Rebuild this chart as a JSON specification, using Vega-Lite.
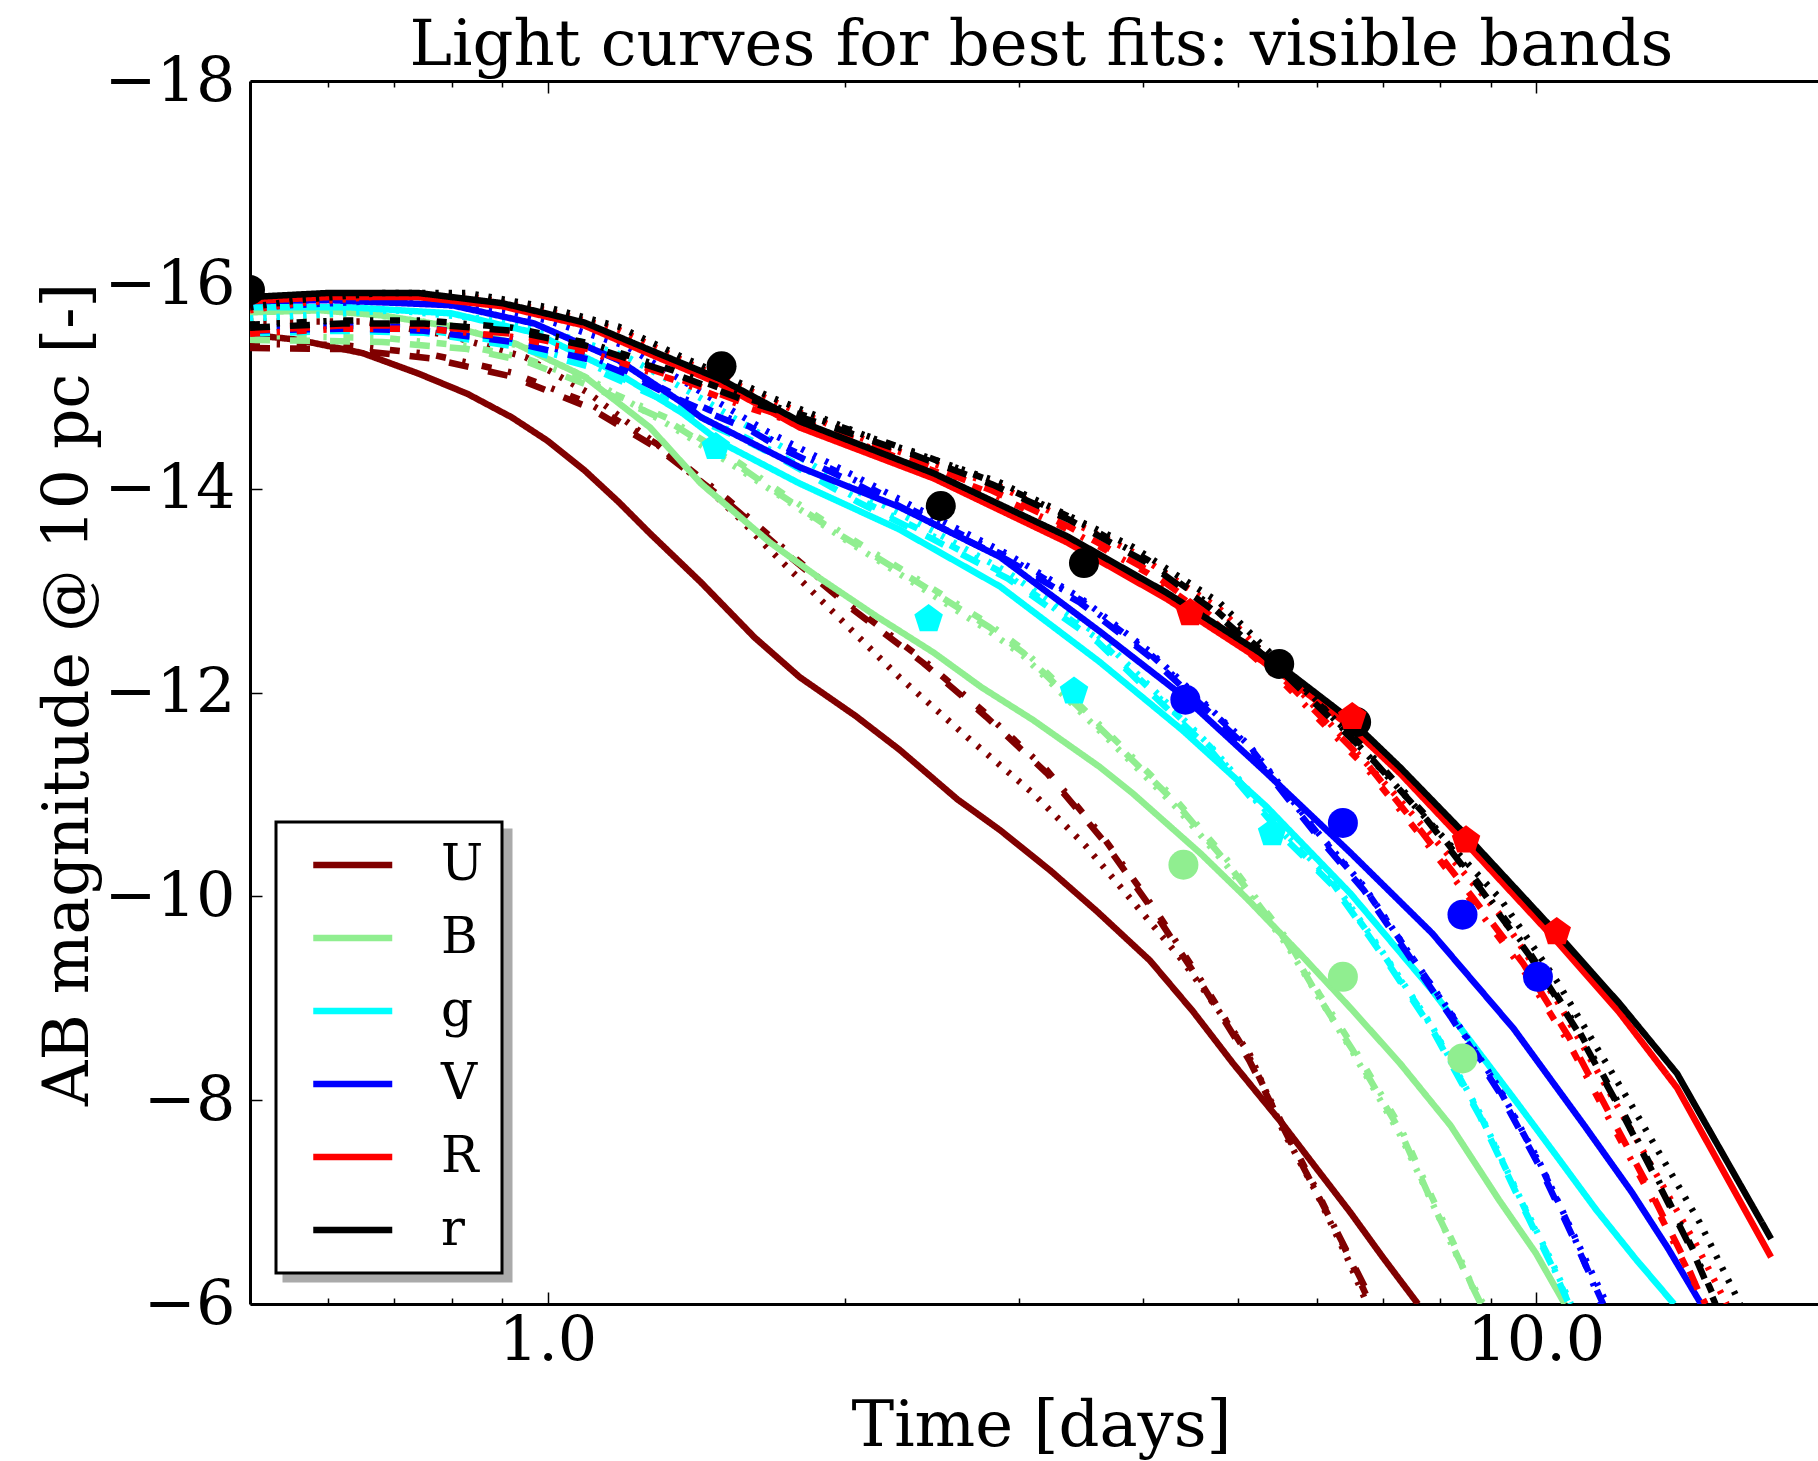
{
  "$schema": "https://vega.github.io/schema/vega-lite/v6.json",
  "width": 1568,
  "height": 1223,
  "autosize": {"type": "none"},
  "padding": {"left": 250, "top": 81, "right": 0, "bottom": 157},
  "background": "white",
  "datasets": {
    "curves": [
      {"band":"U","style":"solid","t":0.5,"mag":-15.51},{"band":"U","style":"solid","t":0.56,"mag":-15.46},{"band":"U","style":"solid","t":0.65,"mag":-15.33},{"band":"U","style":"solid","t":0.74,"mag":-15.13},{"band":"U","style":"solid","t":0.83,"mag":-14.93},{"band":"U","style":"solid","t":0.92,"mag":-14.7},{"band":"U","style":"solid","t":1.0,"mag":-14.47},{"band":"U","style":"solid","t":1.09,"mag":-14.18},{"band":"U","style":"solid","t":1.18,"mag":-13.87},{"band":"U","style":"solid","t":1.27,"mag":-13.56},{"band":"U","style":"solid","t":1.43,"mag":-13.08},{"band":"U","style":"solid","t":1.62,"mag":-12.54},{"band":"U","style":"solid","t":1.8,"mag":-12.15},{"band":"U","style":"solid","t":2.05,"mag":-11.77},{"band":"U","style":"solid","t":2.27,"mag":-11.44},{"band":"U","style":"solid","t":2.6,"mag":-10.95},{"band":"U","style":"solid","t":2.87,"mag":-10.65},{"band":"U","style":"solid","t":3.23,"mag":-10.25},{"band":"U","style":"solid","t":3.6,"mag":-9.85},{"band":"U","style":"solid","t":4.07,"mag":-9.37},{"band":"U","style":"solid","t":4.5,"mag":-8.87},{"band":"U","style":"solid","t":4.94,"mag":-8.36},{"band":"U","style":"solid","t":5.55,"mag":-7.76},{"band":"U","style":"solid","t":6.0,"mag":-7.33},{"band":"U","style":"solid","t":6.49,"mag":-6.9},{"band":"U","style":"solid","t":7.0,"mag":-6.46},{"band":"U","style":"solid","t":7.6,"mag":-6.0},
      {"band":"U","style":"dashed","t":0.5,"mag":-15.38},{"band":"U","style":"dashed","t":0.62,"mag":-15.37},{"band":"U","style":"dashed","t":0.76,"mag":-15.28},{"band":"U","style":"dashed","t":0.92,"mag":-15.1},{"band":"U","style":"dashed","t":1.1,"mag":-14.8},{"band":"U","style":"dashed","t":1.3,"mag":-14.38},{"band":"U","style":"dashed","t":1.52,"mag":-13.87},{"band":"U","style":"dashed","t":1.76,"mag":-13.33},{"band":"U","style":"dashed","t":2.04,"mag":-12.81},{"band":"U","style":"dashed","t":2.4,"mag":-12.29},{"band":"U","style":"dashed","t":2.78,"mag":-11.76},{"band":"U","style":"dashed","t":3.2,"mag":-11.21},{"band":"U","style":"dashed","t":3.65,"mag":-10.55},{"band":"U","style":"dashed","t":4.14,"mag":-9.8},{"band":"U","style":"dashed","t":4.61,"mag":-9.11},{"band":"U","style":"dashed","t":5.13,"mag":-8.39},{"band":"U","style":"dashed","t":5.77,"mag":-7.41},{"band":"U","style":"dashed","t":6.3,"mag":-6.7},{"band":"U","style":"dashed","t":6.85,"mag":-6.0},
      {"band":"U","style":"dotted","t":0.5,"mag":-15.64},{"band":"U","style":"dotted","t":0.65,"mag":-15.64},{"band":"U","style":"dotted","t":0.79,"mag":-15.51},{"band":"U","style":"dotted","t":0.95,"mag":-15.29},{"band":"U","style":"dotted","t":1.1,"mag":-14.94},{"band":"U","style":"dotted","t":1.3,"mag":-14.41},{"band":"U","style":"dotted","t":1.43,"mag":-14.06},{"band":"U","style":"dotted","t":1.56,"mag":-13.72},{"band":"U","style":"dotted","t":1.67,"mag":-13.42},{"band":"U","style":"dotted","t":1.95,"mag":-12.78},{"band":"U","style":"dotted","t":2.27,"mag":-12.15},{"band":"U","style":"dotted","t":2.66,"mag":-11.56},{"band":"U","style":"dotted","t":3.1,"mag":-11.01},{"band":"U","style":"dotted","t":3.5,"mag":-10.5},{"band":"U","style":"dotted","t":3.91,"mag":-9.95},{"band":"U","style":"dotted","t":4.39,"mag":-9.37},{"band":"U","style":"dotted","t":4.75,"mag":-8.91},{"band":"U","style":"dotted","t":5.13,"mag":-8.46},{"band":"U","style":"dotted","t":5.55,"mag":-7.7},{"band":"U","style":"dotted","t":6.0,"mag":-7.09},{"band":"U","style":"dotted","t":6.44,"mag":-6.46},{"band":"U","style":"dotted","t":6.75,"mag":-6.0},
      {"band":"U","style":"dashdot","t":0.5,"mag":-15.42},{"band":"U","style":"dashdot","t":0.62,"mag":-15.41},{"band":"U","style":"dashdot","t":0.76,"mag":-15.32},{"band":"U","style":"dashdot","t":0.92,"mag":-15.14},{"band":"U","style":"dashdot","t":1.1,"mag":-14.84},{"band":"U","style":"dashdot","t":1.3,"mag":-14.42},{"band":"U","style":"dashdot","t":1.52,"mag":-13.9},{"band":"U","style":"dashdot","t":1.76,"mag":-13.36},{"band":"U","style":"dashdot","t":2.04,"mag":-12.84},{"band":"U","style":"dashdot","t":2.4,"mag":-12.32},{"band":"U","style":"dashdot","t":2.78,"mag":-11.79},{"band":"U","style":"dashdot","t":3.2,"mag":-11.24},{"band":"U","style":"dashdot","t":3.65,"mag":-10.58},{"band":"U","style":"dashdot","t":4.14,"mag":-9.84},{"band":"U","style":"dashdot","t":4.61,"mag":-9.14},{"band":"U","style":"dashdot","t":5.13,"mag":-8.42},{"band":"U","style":"dashdot","t":5.55,"mag":-7.75},{"band":"U","style":"dashdot","t":6.0,"mag":-7.12},{"band":"U","style":"dashdot","t":6.44,"mag":-6.5},{"band":"U","style":"dashdot","t":6.8,"mag":-6.0},

      {"band":"B","style":"solid","t":0.5,"mag":-15.73},{"band":"B","style":"solid","t":0.59,"mag":-15.75},{"band":"B","style":"solid","t":0.68,"mag":-15.7},{"band":"B","style":"solid","t":0.8,"mag":-15.59},{"band":"B","style":"solid","t":0.93,"mag":-15.42},{"band":"B","style":"solid","t":1.09,"mag":-15.1},{"band":"B","style":"solid","t":1.27,"mag":-14.6},{"band":"B","style":"solid","t":1.43,"mag":-14.05},{"band":"B","style":"solid","t":1.68,"mag":-13.47},{"band":"B","style":"solid","t":1.88,"mag":-13.13},{"band":"B","style":"solid","t":2.15,"mag":-12.75},{"band":"B","style":"solid","t":2.46,"mag":-12.39},{"band":"B","style":"solid","t":2.75,"mag":-12.05},{"band":"B","style":"solid","t":3.1,"mag":-11.73},{"band":"B","style":"solid","t":3.62,"mag":-11.27},{"band":"B","style":"solid","t":3.91,"mag":-11.01},{"band":"B","style":"solid","t":4.58,"mag":-10.42},{"band":"B","style":"solid","t":5.1,"mag":-9.98},{"band":"B","style":"solid","t":5.77,"mag":-9.44},{"band":"B","style":"solid","t":6.5,"mag":-8.9},{"band":"B","style":"solid","t":7.29,"mag":-8.36},{"band":"B","style":"solid","t":8.2,"mag":-7.75},{"band":"B","style":"solid","t":9.18,"mag":-7.02},{"band":"B","style":"solid","t":10.0,"mag":-6.5},{"band":"B","style":"solid","t":10.7,"mag":-6.0},
      {"band":"B","style":"dashed","t":0.5,"mag":-15.46},{"band":"B","style":"dashed","t":0.68,"mag":-15.44},{"band":"B","style":"dashed","t":0.83,"mag":-15.37},{"band":"B","style":"dashed","t":0.95,"mag":-15.25},{"band":"B","style":"dashed","t":1.11,"mag":-15.0},{"band":"B","style":"dashed","t":1.33,"mag":-14.65},{"band":"B","style":"dashed","t":1.57,"mag":-14.21},{"band":"B","style":"dashed","t":1.69,"mag":-13.99},{"band":"B","style":"dashed","t":1.99,"mag":-13.53},{"band":"B","style":"dashed","t":2.37,"mag":-13.08},{"band":"B","style":"dashed","t":2.8,"mag":-12.64},{"band":"B","style":"dashed","t":3.03,"mag":-12.39},{"band":"B","style":"dashed","t":3.73,"mag":-11.53},{"band":"B","style":"dashed","t":4.33,"mag":-10.91},{"band":"B","style":"dashed","t":4.87,"mag":-10.33},{"band":"B","style":"dashed","t":5.6,"mag":-9.55},{"band":"B","style":"dashed","t":6.04,"mag":-9.0},{"band":"B","style":"dashed","t":6.52,"mag":-8.5},{"band":"B","style":"dashed","t":7.29,"mag":-7.7},{"band":"B","style":"dashed","t":7.85,"mag":-7.0},{"band":"B","style":"dashed","t":8.37,"mag":-6.43},{"band":"B","style":"dashed","t":8.8,"mag":-6.0},
      {"band":"B","style":"dotted","t":0.5,"mag":-15.68},{"band":"B","style":"dotted","t":0.65,"mag":-15.72},{"band":"B","style":"dotted","t":0.8,"mag":-15.6},{"band":"B","style":"dotted","t":0.95,"mag":-15.38},{"band":"B","style":"dotted","t":1.1,"mag":-15.08},{"band":"B","style":"dotted","t":1.33,"mag":-14.62},{"band":"B","style":"dotted","t":1.57,"mag":-14.18},{"band":"B","style":"dotted","t":1.7,"mag":-13.96},{"band":"B","style":"dotted","t":2.0,"mag":-13.5},{"band":"B","style":"dotted","t":2.37,"mag":-13.05},{"band":"B","style":"dotted","t":2.8,"mag":-12.6},{"band":"B","style":"dotted","t":3.03,"mag":-12.36},{"band":"B","style":"dotted","t":3.73,"mag":-11.5},{"band":"B","style":"dotted","t":4.33,"mag":-10.87},{"band":"B","style":"dotted","t":4.87,"mag":-10.3},{"band":"B","style":"dotted","t":5.6,"mag":-9.52},{"band":"B","style":"dotted","t":6.04,"mag":-9.0},{"band":"B","style":"dotted","t":6.52,"mag":-8.48},{"band":"B","style":"dotted","t":7.29,"mag":-7.66},{"band":"B","style":"dotted","t":7.85,"mag":-7.0},{"band":"B","style":"dotted","t":8.37,"mag":-6.42},{"band":"B","style":"dotted","t":8.85,"mag":-6.0},
      {"band":"B","style":"dashdot","t":0.5,"mag":-15.5},{"band":"B","style":"dashdot","t":0.68,"mag":-15.48},{"band":"B","style":"dashdot","t":0.83,"mag":-15.4},{"band":"B","style":"dashdot","t":0.95,"mag":-15.28},{"band":"B","style":"dashdot","t":1.11,"mag":-15.03},{"band":"B","style":"dashdot","t":1.33,"mag":-14.68},{"band":"B","style":"dashdot","t":1.57,"mag":-14.24},{"band":"B","style":"dashdot","t":1.69,"mag":-14.02},{"band":"B","style":"dashdot","t":1.99,"mag":-13.56},{"band":"B","style":"dashdot","t":2.37,"mag":-13.11},{"band":"B","style":"dashdot","t":2.8,"mag":-12.67},{"band":"B","style":"dashdot","t":3.03,"mag":-12.42},{"band":"B","style":"dashdot","t":3.73,"mag":-11.56},{"band":"B","style":"dashdot","t":4.33,"mag":-10.94},{"band":"B","style":"dashdot","t":4.87,"mag":-10.36},{"band":"B","style":"dashdot","t":5.6,"mag":-9.58},{"band":"B","style":"dashdot","t":6.04,"mag":-9.04},{"band":"B","style":"dashdot","t":6.52,"mag":-8.54},{"band":"B","style":"dashdot","t":7.29,"mag":-7.74},{"band":"B","style":"dashdot","t":7.85,"mag":-7.05},{"band":"B","style":"dashdot","t":8.37,"mag":-6.47},{"band":"B","style":"dashdot","t":8.77,"mag":-6.0},

      {"band":"g","style":"solid","t":0.5,"mag":-15.78},{"band":"g","style":"solid","t":0.63,"mag":-15.78},{"band":"g","style":"solid","t":0.8,"mag":-15.72},{"band":"g","style":"solid","t":0.97,"mag":-15.53},{"band":"g","style":"solid","t":1.18,"mag":-15.13},{"band":"g","style":"solid","t":1.37,"mag":-14.74},{"band":"g","style":"solid","t":1.5,"mag":-14.45},{"band":"g","style":"solid","t":1.8,"mag":-14.05},{"band":"g","style":"solid","t":2.27,"mag":-13.6},{"band":"g","style":"solid","t":2.87,"mag":-13.04},{"band":"g","style":"solid","t":3.62,"mag":-12.3},{"band":"g","style":"solid","t":4.39,"mag":-11.63},{"band":"g","style":"solid","t":5.34,"mag":-10.88},{"band":"g","style":"solid","t":6.49,"mag":-10.03},{"band":"g","style":"solid","t":7.85,"mag":-9.08},{"band":"g","style":"solid","t":9.53,"mag":-8.0},{"band":"g","style":"solid","t":10.5,"mag":-7.45},{"band":"g","style":"solid","t":11.5,"mag":-6.93},{"band":"g","style":"solid","t":12.6,"mag":-6.45},{"band":"g","style":"solid","t":13.8,"mag":-6.0},
      {"band":"g","style":"dashed","t":0.5,"mag":-15.52},{"band":"g","style":"dashed","t":0.62,"mag":-15.55},{"band":"g","style":"dashed","t":0.75,"mag":-15.53},{"band":"g","style":"dashed","t":0.92,"mag":-15.4},{"band":"g","style":"dashed","t":1.1,"mag":-15.2},{"band":"g","style":"dashed","t":1.33,"mag":-14.84},{"band":"g","style":"dashed","t":1.45,"mag":-14.64},{"band":"g","style":"dashed","t":1.58,"mag":-14.48},{"band":"g","style":"dashed","t":1.72,"mag":-14.3},{"band":"g","style":"dashed","t":2.06,"mag":-13.87},{"band":"g","style":"dashed","t":2.46,"mag":-13.5},{"band":"g","style":"dashed","t":2.92,"mag":-13.12},{"band":"g","style":"dashed","t":3.6,"mag":-12.5},{"band":"g","style":"dashed","t":4.68,"mag":-11.44},{"band":"g","style":"dashed","t":5.6,"mag":-10.55},{"band":"g","style":"dashed","t":6.24,"mag":-10.1},{"band":"g","style":"dashed","t":7.0,"mag":-9.42},{"band":"g","style":"dashed","t":7.85,"mag":-8.7},{"band":"g","style":"dashed","t":8.78,"mag":-7.84},{"band":"g","style":"dashed","t":9.63,"mag":-7.02},{"band":"g","style":"dashed","t":10.4,"mag":-6.36},{"band":"g","style":"dashed","t":10.8,"mag":-6.0},
      {"band":"g","style":"dotted","t":0.5,"mag":-15.67},{"band":"g","style":"dotted","t":0.7,"mag":-15.75},{"band":"g","style":"dotted","t":0.9,"mag":-15.65},{"band":"g","style":"dotted","t":1.0,"mag":-15.55},{"band":"g","style":"dotted","t":1.2,"mag":-15.3},{"band":"g","style":"dotted","t":1.44,"mag":-14.87},{"band":"g","style":"dotted","t":1.7,"mag":-14.45},{"band":"g","style":"dotted","t":2.06,"mag":-13.97},{"band":"g","style":"dotted","t":2.46,"mag":-13.58},{"band":"g","style":"dotted","t":2.92,"mag":-13.18},{"band":"g","style":"dotted","t":3.6,"mag":-12.57},{"band":"g","style":"dotted","t":4.68,"mag":-11.48},{"band":"g","style":"dotted","t":5.6,"mag":-10.6},{"band":"g","style":"dotted","t":6.24,"mag":-10.14},{"band":"g","style":"dotted","t":7.0,"mag":-9.45},{"band":"g","style":"dotted","t":7.85,"mag":-8.73},{"band":"g","style":"dotted","t":8.78,"mag":-7.87},{"band":"g","style":"dotted","t":9.63,"mag":-7.05},{"band":"g","style":"dotted","t":10.4,"mag":-6.4},{"band":"g","style":"dotted","t":10.85,"mag":-6.0},
      {"band":"g","style":"dashdot","t":0.5,"mag":-15.55},{"band":"g","style":"dashdot","t":0.62,"mag":-15.58},{"band":"g","style":"dashdot","t":0.75,"mag":-15.56},{"band":"g","style":"dashdot","t":0.92,"mag":-15.43},{"band":"g","style":"dashdot","t":1.1,"mag":-15.23},{"band":"g","style":"dashdot","t":1.33,"mag":-14.87},{"band":"g","style":"dashdot","t":1.45,"mag":-14.67},{"band":"g","style":"dashdot","t":1.58,"mag":-14.51},{"band":"g","style":"dashdot","t":1.72,"mag":-14.33},{"band":"g","style":"dashdot","t":2.06,"mag":-13.9},{"band":"g","style":"dashdot","t":2.46,"mag":-13.53},{"band":"g","style":"dashdot","t":2.92,"mag":-13.15},{"band":"g","style":"dashdot","t":3.6,"mag":-12.53},{"band":"g","style":"dashdot","t":4.68,"mag":-11.47},{"band":"g","style":"dashdot","t":5.6,"mag":-10.58},{"band":"g","style":"dashdot","t":6.24,"mag":-10.12},{"band":"g","style":"dashdot","t":7.0,"mag":-9.44},{"band":"g","style":"dashdot","t":7.85,"mag":-8.72},{"band":"g","style":"dashdot","t":8.78,"mag":-7.86},{"band":"g","style":"dashdot","t":9.63,"mag":-7.04},{"band":"g","style":"dashdot","t":10.4,"mag":-6.38},{"band":"g","style":"dashdot","t":10.8,"mag":-6.0},

      {"band":"V","style":"solid","t":0.5,"mag":-15.84},{"band":"V","style":"solid","t":0.6,"mag":-15.85},{"band":"V","style":"solid","t":0.8,"mag":-15.8},{"band":"V","style":"solid","t":0.97,"mag":-15.62},{"band":"V","style":"solid","t":1.18,"mag":-15.26},{"band":"V","style":"solid","t":1.37,"mag":-14.84},{"band":"V","style":"solid","t":1.43,"mag":-14.7},{"band":"V","style":"solid","t":1.8,"mag":-14.21},{"band":"V","style":"solid","t":2.27,"mag":-13.82},{"band":"V","style":"solid","t":2.87,"mag":-13.33},{"band":"V","style":"solid","t":3.62,"mag":-12.6},{"band":"V","style":"solid","t":4.39,"mag":-11.97},{"band":"V","style":"solid","t":5.34,"mag":-11.21},{"band":"V","style":"solid","t":6.49,"mag":-10.43},{"band":"V","style":"solid","t":7.85,"mag":-9.64},{"band":"V","style":"solid","t":9.5,"mag":-8.7},{"band":"V","style":"solid","t":11.2,"mag":-7.75},{"band":"V","style":"solid","t":12.5,"mag":-7.1},{"band":"V","style":"solid","t":13.6,"mag":-6.55},{"band":"V","style":"solid","t":14.7,"mag":-6.0},
      {"band":"V","style":"dashed","t":0.5,"mag":-15.55},{"band":"V","style":"dashed","t":0.62,"mag":-15.57},{"band":"V","style":"dashed","t":0.75,"mag":-15.55},{"band":"V","style":"dashed","t":0.92,"mag":-15.44},{"band":"V","style":"dashed","t":1.0,"mag":-15.36},{"band":"V","style":"dashed","t":1.11,"mag":-15.26},{"band":"V","style":"dashed","t":1.22,"mag":-15.1},{"band":"V","style":"dashed","t":1.34,"mag":-14.9},{"band":"V","style":"dashed","t":1.46,"mag":-14.74},{"band":"V","style":"dashed","t":1.6,"mag":-14.58},{"band":"V","style":"dashed","t":1.72,"mag":-14.4},{"band":"V","style":"dashed","t":2.04,"mag":-14.06},{"band":"V","style":"dashed","t":2.44,"mag":-13.67},{"band":"V","style":"dashed","t":2.92,"mag":-13.3},{"band":"V","style":"dashed","t":3.46,"mag":-12.88},{"band":"V","style":"dashed","t":4.07,"mag":-12.35},{"band":"V","style":"dashed","t":5.13,"mag":-11.44},{"band":"V","style":"dashed","t":6.0,"mag":-10.6},{"band":"V","style":"dashed","t":6.7,"mag":-10.06},{"band":"V","style":"dashed","t":7.4,"mag":-9.45},{"band":"V","style":"dashed","t":8.2,"mag":-8.82},{"band":"V","style":"dashed","t":9.18,"mag":-8.08},{"band":"V","style":"dashed","t":10.1,"mag":-7.34},{"band":"V","style":"dashed","t":10.9,"mag":-6.66},{"band":"V","style":"dashed","t":11.7,"mag":-6.0},
      {"band":"V","style":"dotted","t":0.5,"mag":-15.78},{"band":"V","style":"dotted","t":0.7,"mag":-15.85},{"band":"V","style":"dotted","t":0.9,"mag":-15.75},{"band":"V","style":"dotted","t":1.0,"mag":-15.65},{"band":"V","style":"dotted","t":1.2,"mag":-15.4},{"band":"V","style":"dotted","t":1.44,"mag":-14.93},{"band":"V","style":"dotted","t":1.67,"mag":-14.56},{"band":"V","style":"dotted","t":2.04,"mag":-14.13},{"band":"V","style":"dotted","t":2.44,"mag":-13.74},{"band":"V","style":"dotted","t":2.92,"mag":-13.36},{"band":"V","style":"dotted","t":3.46,"mag":-12.93},{"band":"V","style":"dotted","t":4.07,"mag":-12.4},{"band":"V","style":"dotted","t":5.13,"mag":-11.48},{"band":"V","style":"dotted","t":6.0,"mag":-10.64},{"band":"V","style":"dotted","t":6.7,"mag":-10.1},{"band":"V","style":"dotted","t":7.4,"mag":-9.48},{"band":"V","style":"dotted","t":8.2,"mag":-8.86},{"band":"V","style":"dotted","t":9.18,"mag":-8.12},{"band":"V","style":"dotted","t":10.1,"mag":-7.38},{"band":"V","style":"dotted","t":10.9,"mag":-6.7},{"band":"V","style":"dotted","t":11.8,"mag":-6.0},
      {"band":"V","style":"dashdot","t":0.5,"mag":-15.58},{"band":"V","style":"dashdot","t":0.62,"mag":-15.6},{"band":"V","style":"dashdot","t":0.75,"mag":-15.58},{"band":"V","style":"dashdot","t":0.92,"mag":-15.47},{"band":"V","style":"dashdot","t":1.0,"mag":-15.39},{"band":"V","style":"dashdot","t":1.11,"mag":-15.29},{"band":"V","style":"dashdot","t":1.22,"mag":-15.13},{"band":"V","style":"dashdot","t":1.34,"mag":-14.93},{"band":"V","style":"dashdot","t":1.46,"mag":-14.77},{"band":"V","style":"dashdot","t":1.6,"mag":-14.61},{"band":"V","style":"dashdot","t":1.72,"mag":-14.43},{"band":"V","style":"dashdot","t":2.04,"mag":-14.09},{"band":"V","style":"dashdot","t":2.44,"mag":-13.7},{"band":"V","style":"dashdot","t":2.92,"mag":-13.33},{"band":"V","style":"dashdot","t":3.46,"mag":-12.91},{"band":"V","style":"dashdot","t":4.07,"mag":-12.38},{"band":"V","style":"dashdot","t":5.13,"mag":-11.47},{"band":"V","style":"dashdot","t":6.0,"mag":-10.63},{"band":"V","style":"dashdot","t":6.7,"mag":-10.09},{"band":"V","style":"dashdot","t":7.4,"mag":-9.48},{"band":"V","style":"dashdot","t":8.2,"mag":-8.85},{"band":"V","style":"dashdot","t":9.18,"mag":-8.11},{"band":"V","style":"dashdot","t":10.1,"mag":-7.37},{"band":"V","style":"dashdot","t":10.9,"mag":-6.69},{"band":"V","style":"dashdot","t":11.65,"mag":-6.0},

      {"band":"R","style":"solid","t":0.5,"mag":-15.84},{"band":"R","style":"solid","t":0.6,"mag":-15.88},{"band":"R","style":"solid","t":0.74,"mag":-15.88},{"band":"R","style":"solid","t":0.9,"mag":-15.79},{"band":"R","style":"solid","t":1.09,"mag":-15.6},{"band":"R","style":"solid","t":1.27,"mag":-15.32},{"band":"R","style":"solid","t":1.5,"mag":-15.02},{"band":"R","style":"solid","t":1.8,"mag":-14.6},{"band":"R","style":"solid","t":2.46,"mag":-14.1},{"band":"R","style":"solid","t":3.36,"mag":-13.47},{"band":"R","style":"solid","t":4.23,"mag":-12.92},{"band":"R","style":"solid","t":5.5,"mag":-12.2},{"band":"R","style":"solid","t":6.5,"mag":-11.66},{"band":"R","style":"solid","t":7.3,"mag":-11.2},{"band":"R","style":"solid","t":8.5,"mag":-10.52},{"band":"R","style":"solid","t":10.5,"mag":-9.56},{"band":"R","style":"solid","t":12.15,"mag":-8.86},{"band":"R","style":"solid","t":13.9,"mag":-8.12},{"band":"R","style":"solid","t":17.3,"mag":-6.46},
      {"band":"R","style":"dashed","t":0.5,"mag":-15.55},{"band":"R","style":"dashed","t":0.62,"mag":-15.6},{"band":"R","style":"dashed","t":0.75,"mag":-15.6},{"band":"R","style":"dashed","t":0.92,"mag":-15.52},{"band":"R","style":"dashed","t":1.11,"mag":-15.36},{"band":"R","style":"dashed","t":1.34,"mag":-15.1},{"band":"R","style":"dashed","t":1.6,"mag":-14.82},{"band":"R","style":"dashed","t":1.92,"mag":-14.58},{"band":"R","style":"dashed","t":2.35,"mag":-14.28},{"band":"R","style":"dashed","t":2.82,"mag":-13.98},{"band":"R","style":"dashed","t":3.38,"mag":-13.62},{"band":"R","style":"dashed","t":4.05,"mag":-13.2},{"band":"R","style":"dashed","t":4.68,"mag":-12.76},{"band":"R","style":"dashed","t":5.6,"mag":-12.1},{"band":"R","style":"dashed","t":6.75,"mag":-11.3},{"band":"R","style":"dashed","t":7.64,"mag":-10.65},{"band":"R","style":"dashed","t":8.63,"mag":-9.99},{"band":"R","style":"dashed","t":9.71,"mag":-9.34},{"band":"R","style":"dashed","t":10.8,"mag":-8.62},{"band":"R","style":"dashed","t":11.87,"mag":-7.87},{"band":"R","style":"dashed","t":13.0,"mag":-7.15},{"band":"R","style":"dashed","t":14.2,"mag":-6.4},{"band":"R","style":"dashed","t":14.8,"mag":-6.0},
      {"band":"R","style":"dotted","t":0.5,"mag":-15.75},{"band":"R","style":"dotted","t":0.56,"mag":-15.82},{"band":"R","style":"dotted","t":0.68,"mag":-15.89},{"band":"R","style":"dotted","t":0.83,"mag":-15.89},{"band":"R","style":"dotted","t":1.0,"mag":-15.75},{"band":"R","style":"dotted","t":1.18,"mag":-15.56},{"band":"R","style":"dotted","t":1.37,"mag":-15.26},{"band":"R","style":"dotted","t":1.54,"mag":-15.04},{"band":"R","style":"dotted","t":1.68,"mag":-14.87},{"band":"R","style":"dotted","t":2.11,"mag":-14.47},{"band":"R","style":"dotted","t":2.87,"mag":-14.02},{"band":"R","style":"dotted","t":3.91,"mag":-13.38},{"band":"R","style":"dotted","t":4.79,"mag":-12.82},{"band":"R","style":"dotted","t":5.77,"mag":-12.02},{"band":"R","style":"dotted","t":7.2,"mag":-11.0},{"band":"R","style":"dotted","t":8.2,"mag":-10.38},{"band":"R","style":"dotted","t":9.2,"mag":-9.82},{"band":"R","style":"dotted","t":10.5,"mag":-8.98},{"band":"R","style":"dotted","t":12.5,"mag":-7.7},{"band":"R","style":"dotted","t":14.5,"mag":-6.6},{"band":"R","style":"dotted","t":15.6,"mag":-6.0},
      {"band":"R","style":"dashdot","t":0.5,"mag":-15.52},{"band":"R","style":"dashdot","t":0.62,"mag":-15.57},{"band":"R","style":"dashdot","t":0.75,"mag":-15.57},{"band":"R","style":"dashdot","t":0.92,"mag":-15.49},{"band":"R","style":"dashdot","t":1.11,"mag":-15.33},{"band":"R","style":"dashdot","t":1.34,"mag":-15.07},{"band":"R","style":"dashdot","t":1.6,"mag":-14.79},{"band":"R","style":"dashdot","t":1.92,"mag":-14.55},{"band":"R","style":"dashdot","t":2.35,"mag":-14.25},{"band":"R","style":"dashdot","t":2.82,"mag":-13.95},{"band":"R","style":"dashdot","t":3.38,"mag":-13.59},{"band":"R","style":"dashdot","t":4.05,"mag":-13.17},{"band":"R","style":"dashdot","t":4.68,"mag":-12.73},{"band":"R","style":"dashdot","t":5.6,"mag":-12.06},{"band":"R","style":"dashdot","t":6.75,"mag":-11.25},{"band":"R","style":"dashdot","t":7.64,"mag":-10.6},{"band":"R","style":"dashdot","t":8.63,"mag":-9.94},{"band":"R","style":"dashdot","t":9.71,"mag":-9.28},{"band":"R","style":"dashdot","t":10.8,"mag":-8.56},{"band":"R","style":"dashdot","t":11.87,"mag":-7.81},{"band":"R","style":"dashdot","t":13.0,"mag":-7.1},{"band":"R","style":"dashdot","t":14.2,"mag":-6.36},{"band":"R","style":"dashdot","t":14.85,"mag":-6.0},

      {"band":"r","style":"solid","t":0.5,"mag":-15.88},{"band":"r","style":"solid","t":0.6,"mag":-15.92},{"band":"r","style":"solid","t":0.74,"mag":-15.92},{"band":"r","style":"solid","t":0.9,"mag":-15.82},{"band":"r","style":"solid","t":1.09,"mag":-15.63},{"band":"r","style":"solid","t":1.27,"mag":-15.36},{"band":"r","style":"solid","t":1.5,"mag":-15.07},{"band":"r","style":"solid","t":1.8,"mag":-14.66},{"band":"r","style":"solid","t":2.46,"mag":-14.15},{"band":"r","style":"solid","t":3.36,"mag":-13.53},{"band":"r","style":"solid","t":4.23,"mag":-12.98},{"band":"r","style":"solid","t":5.5,"mag":-12.27},{"band":"r","style":"solid","t":6.5,"mag":-11.73},{"band":"r","style":"solid","t":7.3,"mag":-11.26},{"band":"r","style":"solid","t":8.5,"mag":-10.6},{"band":"r","style":"solid","t":10.5,"mag":-9.64},{"band":"r","style":"solid","t":12.15,"mag":-8.95},{"band":"r","style":"solid","t":13.9,"mag":-8.26},{"band":"r","style":"solid","t":17.3,"mag":-6.64},
      {"band":"r","style":"dashed","t":0.5,"mag":-15.58},{"band":"r","style":"dashed","t":0.62,"mag":-15.62},{"band":"r","style":"dashed","t":0.75,"mag":-15.62},{"band":"r","style":"dashed","t":0.92,"mag":-15.55},{"band":"r","style":"dashed","t":1.11,"mag":-15.39},{"band":"r","style":"dashed","t":1.34,"mag":-15.13},{"band":"r","style":"dashed","t":1.6,"mag":-14.85},{"band":"r","style":"dashed","t":1.92,"mag":-14.62},{"band":"r","style":"dashed","t":2.35,"mag":-14.33},{"band":"r","style":"dashed","t":2.82,"mag":-14.04},{"band":"r","style":"dashed","t":3.38,"mag":-13.69},{"band":"r","style":"dashed","t":4.05,"mag":-13.27},{"band":"r","style":"dashed","t":4.68,"mag":-12.83},{"band":"r","style":"dashed","t":5.6,"mag":-12.16},{"band":"r","style":"dashed","t":6.75,"mag":-11.4},{"band":"r","style":"dashed","t":7.76,"mag":-10.75},{"band":"r","style":"dashed","t":8.78,"mag":-10.08},{"band":"r","style":"dashed","t":9.87,"mag":-9.41},{"band":"r","style":"dashed","t":11.0,"mag":-8.69},{"band":"r","style":"dashed","t":12.08,"mag":-7.97},{"band":"r","style":"dashed","t":13.2,"mag":-7.25},{"band":"r","style":"dashed","t":14.5,"mag":-6.46},{"band":"r","style":"dashed","t":15.2,"mag":-6.0},
      {"band":"r","style":"dotted","t":0.5,"mag":-15.78},{"band":"r","style":"dotted","t":0.56,"mag":-15.85},{"band":"r","style":"dotted","t":0.68,"mag":-15.92},{"band":"r","style":"dotted","t":0.83,"mag":-15.92},{"band":"r","style":"dotted","t":1.0,"mag":-15.78},{"band":"r","style":"dotted","t":1.18,"mag":-15.59},{"band":"r","style":"dotted","t":1.37,"mag":-15.29},{"band":"r","style":"dotted","t":1.54,"mag":-15.07},{"band":"r","style":"dotted","t":1.68,"mag":-14.9},{"band":"r","style":"dotted","t":2.11,"mag":-14.51},{"band":"r","style":"dotted","t":2.87,"mag":-14.06},{"band":"r","style":"dotted","t":3.91,"mag":-13.43},{"band":"r","style":"dotted","t":4.79,"mag":-12.88},{"band":"r","style":"dotted","t":5.77,"mag":-12.1},{"band":"r","style":"dotted","t":7.2,"mag":-11.1},{"band":"r","style":"dotted","t":8.2,"mag":-10.5},{"band":"r","style":"dotted","t":9.2,"mag":-9.98},{"band":"r","style":"dotted","t":10.5,"mag":-9.17},{"band":"r","style":"dotted","t":12.5,"mag":-7.95},{"band":"r","style":"dotted","t":14.65,"mag":-6.8},{"band":"r","style":"dotted","t":16.1,"mag":-6.0},
      {"band":"r","style":"dashdot","t":0.5,"mag":-15.61},{"band":"r","style":"dashdot","t":0.62,"mag":-15.65},{"band":"r","style":"dashdot","t":0.75,"mag":-15.65},{"band":"r","style":"dashdot","t":0.92,"mag":-15.58},{"band":"r","style":"dashdot","t":1.11,"mag":-15.42},{"band":"r","style":"dashdot","t":1.34,"mag":-15.16},{"band":"r","style":"dashdot","t":1.6,"mag":-14.88},{"band":"r","style":"dashdot","t":1.92,"mag":-14.65},{"band":"r","style":"dashdot","t":2.35,"mag":-14.36},{"band":"r","style":"dashdot","t":2.82,"mag":-14.07},{"band":"r","style":"dashdot","t":3.38,"mag":-13.72},{"band":"r","style":"dashdot","t":4.05,"mag":-13.3},{"band":"r","style":"dashdot","t":4.68,"mag":-12.86},{"band":"r","style":"dashdot","t":5.6,"mag":-12.19},{"band":"r","style":"dashdot","t":6.75,"mag":-11.43},{"band":"r","style":"dashdot","t":7.76,"mag":-10.78},{"band":"r","style":"dashdot","t":8.78,"mag":-10.11},{"band":"r","style":"dashdot","t":9.87,"mag":-9.44},{"band":"r","style":"dashdot","t":11.0,"mag":-8.72},{"band":"r","style":"dashdot","t":12.08,"mag":-8.0},{"band":"r","style":"dashdot","t":13.2,"mag":-7.28},{"band":"r","style":"dashdot","t":14.5,"mag":-6.49},{"band":"r","style":"dashdot","t":15.25,"mag":-6.0}
    ],
    "obs": [
      {"band":"B","marker":"circle","t":4.4,"mag":-10.31},{"band":"B","marker":"circle","t":6.38,"mag":-9.21},{"band":"B","marker":"circle","t":8.43,"mag":-8.41},
      {"band":"g","marker":"pentagon","t":1.48,"mag":-14.41},{"band":"g","marker":"pentagon","t":2.43,"mag":-12.72},{"band":"g","marker":"pentagon","t":3.41,"mag":-12.01},{"band":"g","marker":"pentagon","t":5.41,"mag":-10.62},
      {"band":"V","marker":"circle","t":4.42,"mag":-11.93},{"band":"V","marker":"circle","t":6.38,"mag":-10.72},{"band":"V","marker":"circle","t":8.43,"mag":-9.82},{"band":"V","marker":"circle","t":10.05,"mag":-9.21},
      {"band":"r","marker":"circle","t":0.5,"mag":-15.95},{"band":"r","marker":"circle","t":1.5,"mag":-15.2},{"band":"r","marker":"circle","t":2.5,"mag":-13.83},{"band":"r","marker":"circle","t":3.49,"mag":-13.27},{"band":"r","marker":"circle","t":5.5,"mag":-12.28},{"band":"r","marker":"circle","t":6.58,"mag":-11.71},
      {"band":"R","marker":"pentagon","t":4.47,"mag":-12.78},{"band":"R","marker":"pentagon","t":6.52,"mag":-11.76},{"band":"R","marker":"pentagon","t":8.5,"mag":-10.55},{"band":"R","marker":"pentagon","t":10.5,"mag":-9.65}
    ]
  },
  "layer": [
    {
      "data": {"name": "curves"},
      "mark": {"type": "line", "strokeWidth": 6.5, "clip": true},
      "encoding": {
        "x": {"field": "t", "type": "quantitative",
          "scale": {"type": "log", "domain": [0.5, 19.3], "nice": false},
          "axis": {"orient": "bottom", "values": [0.6,0.7,0.8,0.9,1,2,3,4,5,6,7,8,9,10],
            "labelExpr": "datum.value == 1 ? '1.0' : (datum.value == 10 ? '10.0' : '')",
            "tickSize": {"condition": {"test": "datum.value == 1 || datum.value == 10", "value": -12}, "value": -6},
            "tickWidth": 1.5, "tickColor": "black", "domainColor": "black", "domainWidth": 3, "grid": false,
            "labelFont": "DejaVu Serif", "labelFontSize": 62, "labelColor": "black", "labelPadding": 18, "labelBaseline": "top",
            "labelFlush": false, "labelOverlap": false, "labelBound": false, "labelLimit": 400,
            "title": "Time [days]", "titleFont": "DejaVu Serif", "titleFontSize": 64, "titleFontWeight": "normal", "titleColor": "black",
            "titleX": 791, "titleY": 141, "titleBaseline": "alphabetic", "titleAlign": "center", "titleAnchor": null}},
        "y": {"field": "mag", "type": "quantitative",
          "scale": {"domain": [-18, -6], "reverse": true, "nice": false, "zero": false},
          "axis": {"orient": "left", "values": [-18,-16,-14,-12,-10,-8,-6], "format": "d",
            "tickSize": -12, "tickWidth": 1.5, "tickColor": "black", "domainColor": "black", "domainWidth": 3, "grid": false,
            "labelFont": "DejaVu Serif", "labelFontSize": 62, "labelColor": "black", "labelPadding": 27, "labelLimit": 400,
            "labelFlush": false, "labelOverlap": false, "labelBound": false,
            "title": "AB magnitude @ 10 pc [-]", "titleFont": "DejaVu Serif", "titleFontSize": 63, "titleFontWeight": "normal", "titleColor": "black",
            "titleAngle": -90, "titleX": -163, "titleY": 613, "titleBaseline": "alphabetic", "titleAlign": "center", "titleAnchor": null}},
        "color": {"field": "band", "type": "nominal",
          "scale": {"domain": ["U","B","g","V","R","r"], "range": ["#800000","#90EE90","#00FFFF","#0000FF","#FF0000","#000000"]},
          "legend": {"orient": "none", "legendX": 26, "legendY": 741, "title": null, "zindex": 2,
            "symbolType": "M-0.291,0L3.709,0", "symbolSize": 1560, "symbolStrokeWidth": 6.5,
            "labelFont": "DejaVu Serif", "labelFontSize": 50, "labelColor": "black", "labelOffset": 97,
            "rowPadding": 23, "padding": 18, "strokeColor": "black", "fillColor": "white"}},
        "strokeDash": {"field": "style", "type": "nominal",
          "scale": {"domain": ["solid","dashed","dotted","dashdot"], "range": [[1,0],[20,20],[3.3,10],[10,16.7,3.3,16.7]]},
          "legend": null}
      }
    },
    {
      "data": {"name": "obs"},
      "mark": {"type": "point", "filled": true, "size": 900, "strokeWidth": 0, "clip": true},
      "encoding": {
        "x": {"field": "t", "type": "quantitative",
          "scale": {"type": "log", "domain": [0.5, 19.3], "nice": false},
          "axis": {"orient": "top", "values": [0.6,0.7,0.8,0.9,1,2,3,4,5,6,7,8,9,10], "labels": false,
            "tickSize": {"condition": {"test": "datum.value == 1 || datum.value == 10", "value": -12}, "value": -6},
            "tickWidth": 1.5, "tickColor": "black", "domainColor": "black", "domainWidth": 3, "grid": false,
            "title": "Light curves for best fits: visible bands", "titleFont": "DejaVu Serif", "titleFontSize": 64, "titleFontWeight": "normal", "titleColor": "black",
            "titleX": 791, "titleY": -17, "titleBaseline": "alphabetic", "titleAlign": "center", "titleAnchor": null}},
        "y": {"field": "mag", "type": "quantitative",
          "scale": {"domain": [-18, -6], "reverse": true, "nice": false, "zero": false}},
        "fill": {"field": "band", "type": "nominal",
          "scale": {"domain": ["U","B","g","V","R","r"], "range": ["#800000","#90EE90","#00FFFF","#0000FF","#FF0000","#000000"]},
          "legend": null},
        "opacity": {"field": "band", "type": "ordinal",
          "scale": {"domain": ["r","R","V","g","B","U"], "range": [1,1,1,1,1,1]},
          "legend": {"orient": "none", "legendX": 34, "legendY": 749, "title": null, "zindex": 0,
            "values": ["U","B","g","V","R","r"], "labelExpr": "'\u2003'",
            "symbolType": "M-0.291,0L3.709,0", "symbolSize": 1560, "symbolStrokeWidth": 6.5, "symbolStrokeColor": "#aaaaaa", "symbolFillColor": "#aaaaaa",
            "labelFont": "DejaVu Serif", "labelFontSize": 50, "labelColor": "#aaaaaa", "labelOffset": 141,
            "rowPadding": 23, "padding": 18, "strokeColor": "#aaaaaa", "fillColor": "#aaaaaa"}},
        "shape": {"field": "marker", "type": "nominal",
          "scale": {"domain": ["circle","pentagon"], "range": ["circle", "M0,-1L0.951,-0.309L0.588,0.809L-0.588,0.809L-0.951,-0.309Z"]},
          "legend": null}
      }
    }
  ],
  "resolve": {"axis": {"x": "independent"}},
  "config": {"view": {"stroke": null}, "legend": {"strokeWidth": 3}}
}
